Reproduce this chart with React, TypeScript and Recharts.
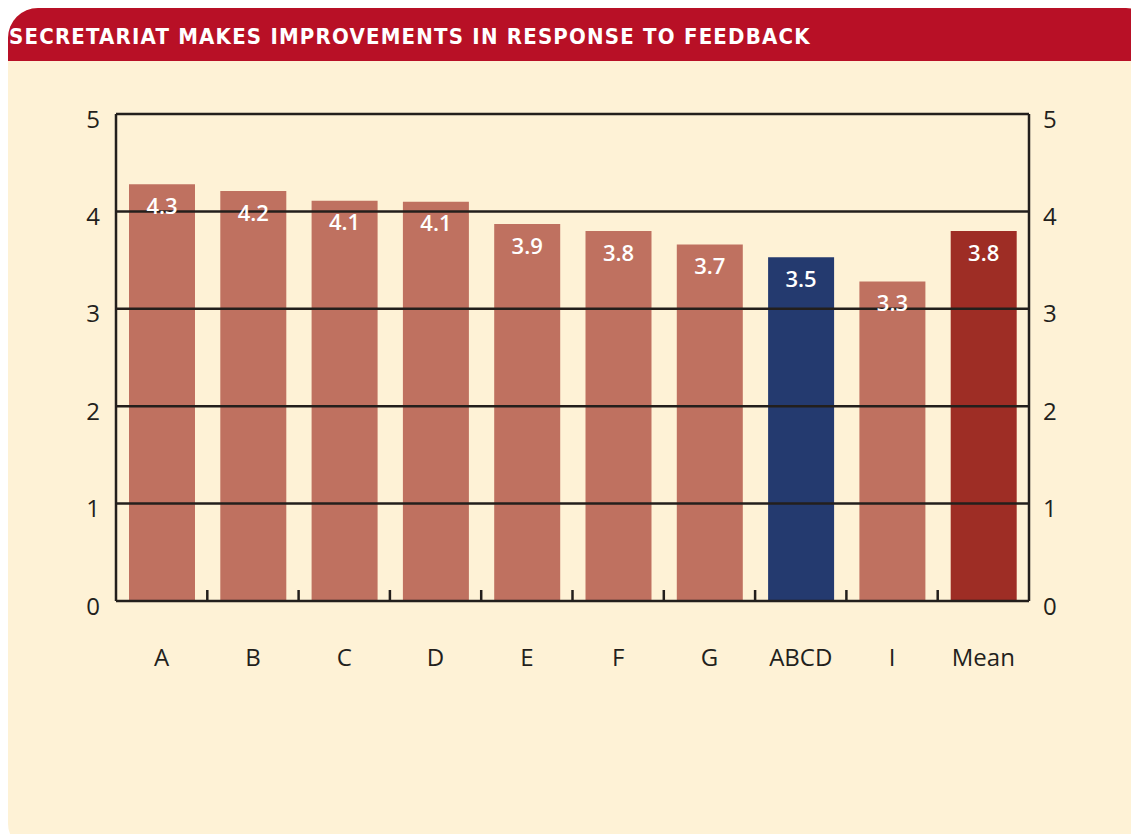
import {
  BarChart,
  Bar,
  Cell,
  XAxis,
  YAxis,
  ReferenceLine,
  LabelList,
} from 'recharts';

const categories = ['A', 'B', 'C', 'D', 'E', 'F', 'G', 'ABCD', 'I', 'Mean'];
const scores = [4.28, 4.21, 4.11, 4.1, 3.87, 3.8, 3.66, 3.53, 3.28, 3.8];
const yTicks = [0, 1, 2, 3, 4, 5];
const gridLevels = [1, 2, 3, 4, 5];

const TITLE = 'SECRETARIAT MAKES IMPROVEMENTS IN RESPONSE TO FEEDBACK';

const BAR = '#bf7160';
const NAVY = '#243a6f';
const DARK_RED = '#9e2d25';
const INK = '#231f1c';
const CREAM = '#fef2d6';
const HEADER_RED = '#b81026';
const FONT = '"Open Sans", "Noto Sans", sans-serif';
const LABEL_GAP = 48;

const chartData = categories.map((name, i) => ({ name, score: scores[i] }));

const barFill = (name: string) => {
  if (name === 'ABCD') return NAVY;
  if (name === 'Mean') return DARK_RED;
  return BAR;
};

// category label plus a short upward tick on the boundary to its right
const CategoryTick = (props: any) => {
  const { x, y, payload, index } = props;
  const axisY = y - LABEL_GAP;
  const edge = x + (payload.offset || 0);
  return (
    <g>
      {index < categories.length - 1 && (
        <line x1={edge} x2={edge} y1={axisY} y2={axisY - 11} stroke={INK} strokeWidth={2.5} />
      )}
      <text
        x={x}
        y={y}
        dy="0.71em"
        textAnchor="middle"
        fill={INK}
        fontSize={24}
        fontFamily={FONT}
      >
        {payload.value}
      </text>
    </g>
  );
};

export default function App() {
  return (
    <div
      style={{
        position: 'fixed',
        left: 0,
        top: 0,
        width: 1131,
        height: 834,
        background: '#fff',
        overflow: 'hidden',
        fontFamily: FONT,
      }}
    >
      {/* card */}
      <div
        style={{
          position: 'absolute',
          left: 8,
          top: 8,
          width: 1140,
          height: 840,
          background: CREAM,
          borderRadius: '30px 22px 0 24px',
          overflow: 'hidden',
        }}
      >
        <div
          style={{
            height: 53,
            background: HEADER_RED,
            color: '#fff',
            fontFamily: '"DejaVu Sans Condensed", "DejaVu Sans", sans-serif',
            fontWeight: 700,
            fontSize: 22,
            letterSpacing: 1.2,
            lineHeight: '58px',
            paddingLeft: 1,
            whiteSpace: 'nowrap',
          }}
        >
          {TITLE}
        </div>
      </div>

      <div style={{ position: 'absolute', left: 0, top: 0 }}>
        <BarChart
          width={1131}
          height={700}
          data={chartData}
          margin={{ top: 114, right: 52, bottom: 29, left: 66 }}
        >
          <XAxis
            dataKey="name"
            height={70}
            axisLine={{ stroke: INK, strokeWidth: 2.5 }}
            tickLine={false}
            tickSize={0}
            tickMargin={LABEL_GAP}
            interval={0}
            tick={<CategoryTick />}
          />
          <YAxis
            yAxisId="left"
            domain={[0, 5]}
            ticks={yTicks}
            width={50}
            axisLine={{ stroke: INK, strokeWidth: 2.5 }}
            tickLine={false}
            tickSize={0}
            tickMargin={16}
            tick={{ fill: INK, fontSize: 24, fontFamily: FONT, dy: 5 }}
          />
          <YAxis
            yAxisId="right"
            orientation="right"
            type="number"
            domain={[0, 5]}
            ticks={yTicks}
            allowDataOverflow
            width={50}
            axisLine={{ stroke: INK, strokeWidth: 2.5 }}
            tickLine={false}
            tickSize={0}
            tickMargin={14}
            tick={{ fill: INK, fontSize: 24, fontFamily: FONT, dy: 5 }}
          />
          <Bar
            dataKey="score"
            yAxisId="left"
            barSize={66}
            isAnimationActive={false}
          >
            {chartData.map((entry) => (
              <Cell key={entry.name} fill={barFill(entry.name)} />
            ))}
            <LabelList
              dataKey="score"
              position="insideTop"
              offset={14}
              formatter={(v: number) => v.toFixed(1)}
              style={{ fill: '#fff', fontSize: 22, fontWeight: 600, fontFamily: FONT }}
            />
          </Bar>
          {gridLevels.map((level) => (
            <ReferenceLine
              key={level}
              y={level}
              yAxisId="left"
              stroke={INK}
              strokeWidth={2.5}
            />
          ))}
        </BarChart>
      </div>
    </div>
  );
}
